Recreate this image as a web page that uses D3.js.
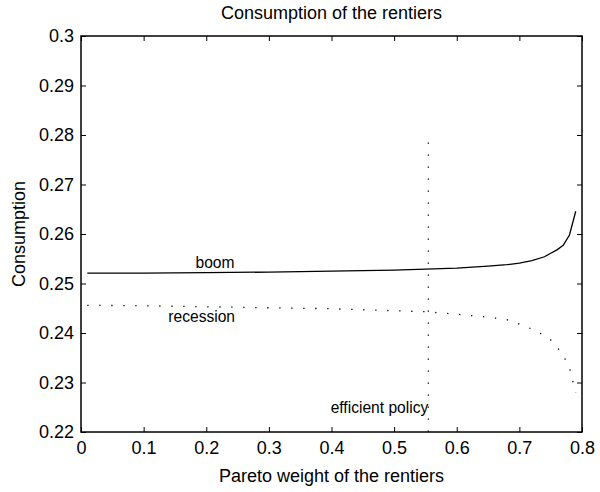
<!DOCTYPE html>
<html><head><meta charset="utf-8">
<script src="https://cdn.jsdelivr.net/npm/d3@7"></script>
<style>body{margin:0;background:#fff}svg{display:block}text{font-family:"Liberation Sans",Arial,sans-serif;fill:#000}</style>
</head><body><svg id="c" width="600" height="492"></svg>
<script>
const xTicks = [0,0.1,0.2,0.3,0.4,0.5,0.6,0.7,0.8];
const yTicks = [0.22,0.23,0.24,0.25,0.26,0.27,0.28,0.29,0.3];
const weights = [0.01,0.1,0.2,0.3,0.4,0.45,0.5,0.55,0.6,0.65,0.68,0.7,0.72,0.74,0.75,0.76,0.77,0.78,0.79];
const boom =      [0.2521,0.2521,0.2522,0.2523,0.2525,0.2526,0.2527,0.2529,0.2531,0.2535,0.2538,0.2541,0.2546,0.2554,0.2561,0.2568,0.2577,0.2598,0.2646];
const recession = [0.2456,0.2455,0.2453,0.2451,0.2449,0.2447,0.2445,0.2443,0.2438,0.2432,0.2427,0.2418,0.2408,0.2395,0.2386,0.2372,0.2355,0.2330,0.2279];
const efficientWeight = 0.5546;
const efficientRange = [0.22,0.2785];
const labels = {title:"Consumption of the rentiers", x:"Pareto weight of the rentiers", y:"Consumption"};

const svg = d3.select("#c");
const L=81,R=582,T=36,B=432;
const x = d3.scaleLinear().domain([0,0.8]).range([L,R]);
const y = d3.scaleLinear().domain([0.22,0.3]).range([B,T]);

svg.append("rect").attr("x",L).attr("y",T).attr("width",R-L).attr("height",B-T)
  .attr("fill","none").attr("stroke","#000").attr("stroke-width",1.5);

const tl=5, fs=18;
const fmt = d => d===0?"0":String(+d.toFixed(2));
const bx = svg.append("g").attr("transform",`translate(0,${B})`)
  .call(d3.axisBottom(x).tickValues(xTicks).tickSize(-tl).tickPadding(9).tickFormat(fmt));
const tx = svg.append("g").attr("transform",`translate(0,${T})`)
  .call(d3.axisTop(x).tickValues(xTicks).tickSize(-tl).tickFormat(""));
const ly = svg.append("g").attr("transform",`translate(${L},0)`)
  .call(d3.axisLeft(y).tickValues(yTicks).tickSize(-tl).tickPadding(7).tickFormat(fmt));
const ry = svg.append("g").attr("transform",`translate(${R},0)`)
  .call(d3.axisRight(y).tickValues(yTicks).tickSize(-tl).tickFormat(""));
[bx,tx,ly,ry].forEach(g=>{
  g.select(".domain").remove();
  g.selectAll("line").attr("stroke","#000").attr("stroke-width",1);
  g.selectAll("text").attr("font-size",fs).attr("font-family","Liberation Sans, Arial, sans-serif").attr("fill","#000");
});

const line = d3.line().x((d,i)=>x(weights[i])).y(d=>y(d));
svg.append("path").attr("d",line(boom)).attr("fill","none").attr("stroke","#000").attr("stroke-width",1.3);
svg.append("path").attr("d",line(recession)).attr("fill","none").attr("stroke","#000")
  .attr("stroke-width",1.3).attr("stroke-dasharray","1.3,10.7");
svg.append("line").attr("x1",x(efficientWeight)).attr("x2",x(efficientWeight))
  .attr("y1",y(efficientRange[1])).attr("y2",y(efficientRange[0]))
  .attr("stroke","#000").attr("stroke-width",1.3).attr("stroke-dasharray","1.3,10.7");

const ifs = 15.6;
svg.append("text").attr("x",x(0.214)).attr("y",y(0.2531)).attr("text-anchor","middle").attr("font-size",ifs).text("boom");
svg.append("text").attr("x",x(0.1927)).attr("y",y(0.2423)).attr("text-anchor","middle").attr("font-size",ifs).text("recession");
svg.append("text").attr("x",x(efficientWeight)).attr("y",y(0.2238)).attr("text-anchor","end").attr("font-size",ifs).text("efficient policy");

svg.append("text").attr("x",(L+R)/2).attr("y",19).attr("text-anchor","middle").attr("font-size",fs).text(labels.title);
svg.append("text").attr("x",(L+R)/2).attr("y",482).attr("text-anchor","middle").attr("font-size",fs).text(labels.x);
svg.append("text").attr("transform",`translate(25,${(T+B)/2}) rotate(-90)`).attr("text-anchor","middle").attr("font-size",fs).text(labels.y);
</script></body></html>
